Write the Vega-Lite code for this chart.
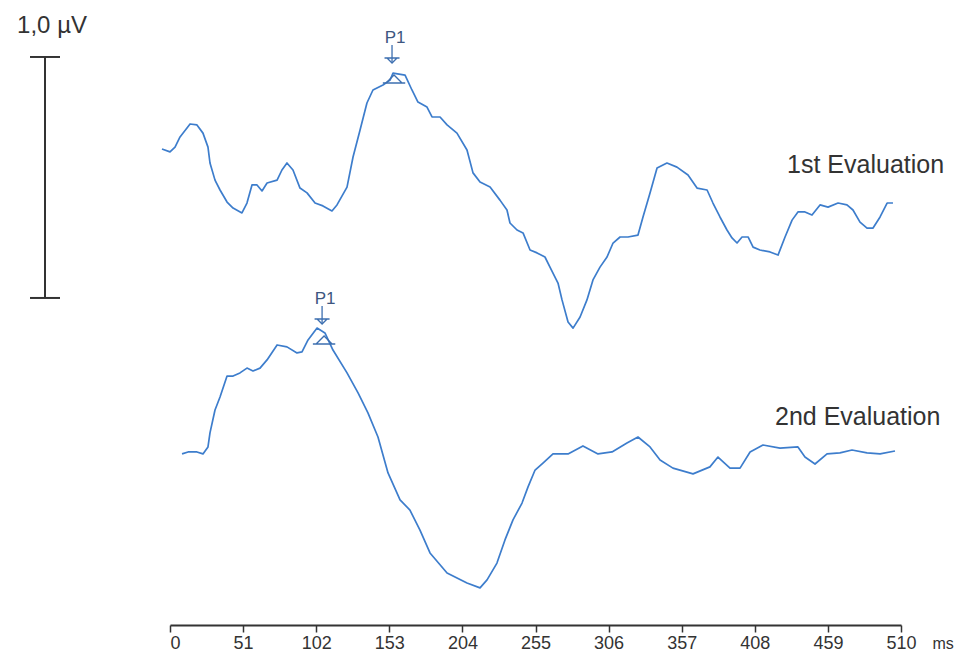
{
  "$schema": "https://vega.github.io/schema/vega-lite/v6.json",
  "width": 731,
  "height": 625,
  "autosize": {"type": "none"},
  "padding": {"left": 170, "top": 0, "right": 65, "bottom": 28},
  "background": "white",
  "config": {"view": {"stroke": null}, "font": "Liberation Sans"},
  "datasets": {
    "traces": [
      {"series": "1st Evaluation", "t": -5.6, "v": 1.975},
      {"series": "1st Evaluation", "t": 0, "v": 1.963},
      {"series": "1st Evaluation", "t": 3.5, "v": 1.983},
      {"series": "1st Evaluation", "t": 7.0, "v": 2.025},
      {"series": "1st Evaluation", "t": 14.0, "v": 2.079},
      {"series": "1st Evaluation", "t": 18.8, "v": 2.075},
      {"series": "1st Evaluation", "t": 23.0, "v": 2.041},
      {"series": "1st Evaluation", "t": 26.5, "v": 1.983},
      {"series": "1st Evaluation", "t": 27.9, "v": 1.917},
      {"series": "1st Evaluation", "t": 31.4, "v": 1.846},
      {"series": "1st Evaluation", "t": 34.9, "v": 1.805},
      {"series": "1st Evaluation", "t": 39.8, "v": 1.755},
      {"series": "1st Evaluation", "t": 44.0, "v": 1.730},
      {"series": "1st Evaluation", "t": 50.2, "v": 1.710},
      {"series": "1st Evaluation", "t": 53.7, "v": 1.751},
      {"series": "1st Evaluation", "t": 57.2, "v": 1.826},
      {"series": "1st Evaluation", "t": 60.7, "v": 1.826},
      {"series": "1st Evaluation", "t": 64.2, "v": 1.801},
      {"series": "1st Evaluation", "t": 67.7, "v": 1.834},
      {"series": "1st Evaluation", "t": 74.7, "v": 1.846},
      {"series": "1st Evaluation", "t": 78.1, "v": 1.888},
      {"series": "1st Evaluation", "t": 81.6, "v": 1.917},
      {"series": "1st Evaluation", "t": 85.8, "v": 1.888},
      {"series": "1st Evaluation", "t": 90.7, "v": 1.813},
      {"series": "1st Evaluation", "t": 95.6, "v": 1.793},
      {"series": "1st Evaluation", "t": 101.2, "v": 1.751},
      {"series": "1st Evaluation", "t": 106.7, "v": 1.739},
      {"series": "1st Evaluation", "t": 113.0, "v": 1.718},
      {"series": "1st Evaluation", "t": 116.5, "v": 1.743},
      {"series": "1st Evaluation", "t": 123.5, "v": 1.817},
      {"series": "1st Evaluation", "t": 127.7, "v": 1.942},
      {"series": "1st Evaluation", "t": 132.6, "v": 2.054},
      {"series": "1st Evaluation", "t": 137.4, "v": 2.166},
      {"series": "1st Evaluation", "t": 141.6, "v": 2.220},
      {"series": "1st Evaluation", "t": 148.6, "v": 2.241},
      {"series": "1st Evaluation", "t": 153.5, "v": 2.261},
      {"series": "1st Evaluation", "t": 155.6, "v": 2.290},
      {"series": "1st Evaluation", "t": 164.0, "v": 2.282},
      {"series": "1st Evaluation", "t": 168.8, "v": 2.220},
      {"series": "1st Evaluation", "t": 173.0, "v": 2.170},
      {"series": "1st Evaluation", "t": 179.3, "v": 2.149},
      {"series": "1st Evaluation", "t": 182.8, "v": 2.108},
      {"series": "1st Evaluation", "t": 188.4, "v": 2.108},
      {"series": "1st Evaluation", "t": 193.3, "v": 2.075},
      {"series": "1st Evaluation", "t": 200.2, "v": 2.041},
      {"series": "1st Evaluation", "t": 207.2, "v": 1.971},
      {"series": "1st Evaluation", "t": 211.4, "v": 1.876},
      {"series": "1st Evaluation", "t": 216.3, "v": 1.838},
      {"series": "1st Evaluation", "t": 223.3, "v": 1.817},
      {"series": "1st Evaluation", "t": 230.2, "v": 1.763},
      {"series": "1st Evaluation", "t": 235.1, "v": 1.722},
      {"series": "1st Evaluation", "t": 237.2, "v": 1.668},
      {"series": "1st Evaluation", "t": 242.1, "v": 1.639},
      {"series": "1st Evaluation", "t": 246.3, "v": 1.627},
      {"series": "1st Evaluation", "t": 251.2, "v": 1.556},
      {"series": "1st Evaluation", "t": 256.1, "v": 1.544},
      {"series": "1st Evaluation", "t": 261.6, "v": 1.527},
      {"series": "1st Evaluation", "t": 265.1, "v": 1.485},
      {"series": "1st Evaluation", "t": 270.7, "v": 1.419},
      {"series": "1st Evaluation", "t": 273.5, "v": 1.349},
      {"series": "1st Evaluation", "t": 277.7, "v": 1.257},
      {"series": "1st Evaluation", "t": 281.2, "v": 1.232},
      {"series": "1st Evaluation", "t": 286.1, "v": 1.278},
      {"series": "1st Evaluation", "t": 290.9, "v": 1.349},
      {"series": "1st Evaluation", "t": 295.1, "v": 1.432},
      {"series": "1st Evaluation", "t": 300.0, "v": 1.485},
      {"series": "1st Evaluation", "t": 304.9, "v": 1.527},
      {"series": "1st Evaluation", "t": 309.1, "v": 1.585},
      {"series": "1st Evaluation", "t": 314.0, "v": 1.610},
      {"series": "1st Evaluation", "t": 319.5, "v": 1.610},
      {"series": "1st Evaluation", "t": 326.5, "v": 1.618},
      {"series": "1st Evaluation", "t": 330.0, "v": 1.693},
      {"series": "1st Evaluation", "t": 334.9, "v": 1.793},
      {"series": "1st Evaluation", "t": 339.8, "v": 1.896},
      {"series": "1st Evaluation", "t": 346.7, "v": 1.917},
      {"series": "1st Evaluation", "t": 353.7, "v": 1.900},
      {"series": "1st Evaluation", "t": 361.4, "v": 1.867},
      {"series": "1st Evaluation", "t": 367.7, "v": 1.813},
      {"series": "1st Evaluation", "t": 374.7, "v": 1.805},
      {"series": "1st Evaluation", "t": 378.8, "v": 1.751},
      {"series": "1st Evaluation", "t": 383.7, "v": 1.693},
      {"series": "1st Evaluation", "t": 388.6, "v": 1.639},
      {"series": "1st Evaluation", "t": 392.1, "v": 1.606},
      {"series": "1st Evaluation", "t": 395.6, "v": 1.585},
      {"series": "1st Evaluation", "t": 399.1, "v": 1.610},
      {"series": "1st Evaluation", "t": 403.3, "v": 1.610},
      {"series": "1st Evaluation", "t": 406.8, "v": 1.568},
      {"series": "1st Evaluation", "t": 411.6, "v": 1.556},
      {"series": "1st Evaluation", "t": 418.6, "v": 1.548},
      {"series": "1st Evaluation", "t": 424.2, "v": 1.535},
      {"series": "1st Evaluation", "t": 429.1, "v": 1.610},
      {"series": "1st Evaluation", "t": 434.0, "v": 1.680},
      {"series": "1st Evaluation", "t": 438.1, "v": 1.714},
      {"series": "1st Evaluation", "t": 443.0, "v": 1.714},
      {"series": "1st Evaluation", "t": 447.9, "v": 1.701},
      {"series": "1st Evaluation", "t": 453.5, "v": 1.743},
      {"series": "1st Evaluation", "t": 459.1, "v": 1.734},
      {"series": "1st Evaluation", "t": 466.1, "v": 1.751},
      {"series": "1st Evaluation", "t": 472.3, "v": 1.743},
      {"series": "1st Evaluation", "t": 476.5, "v": 1.722},
      {"series": "1st Evaluation", "t": 481.4, "v": 1.672},
      {"series": "1st Evaluation", "t": 486.3, "v": 1.647},
      {"series": "1st Evaluation", "t": 490.5, "v": 1.647},
      {"series": "1st Evaluation", "t": 495.4, "v": 1.693},
      {"series": "1st Evaluation", "t": 500.3, "v": 1.751},
      {"series": "1st Evaluation", "t": 504.4, "v": 1.751},
      {"series": "2nd Evaluation", "t": 8.4, "v": 0.710},
      {"series": "2nd Evaluation", "t": 12.6, "v": 0.718},
      {"series": "2nd Evaluation", "t": 18.8, "v": 0.718},
      {"series": "2nd Evaluation", "t": 23.0, "v": 0.710},
      {"series": "2nd Evaluation", "t": 26.5, "v": 0.739},
      {"series": "2nd Evaluation", "t": 27.9, "v": 0.797},
      {"series": "2nd Evaluation", "t": 31.4, "v": 0.892},
      {"series": "2nd Evaluation", "t": 34.9, "v": 0.946},
      {"series": "2nd Evaluation", "t": 39.8, "v": 1.033},
      {"series": "2nd Evaluation", "t": 44.0, "v": 1.033},
      {"series": "2nd Evaluation", "t": 48.8, "v": 1.046},
      {"series": "2nd Evaluation", "t": 53.7, "v": 1.066},
      {"series": "2nd Evaluation", "t": 57.9, "v": 1.054},
      {"series": "2nd Evaluation", "t": 62.8, "v": 1.066},
      {"series": "2nd Evaluation", "t": 67.7, "v": 1.100},
      {"series": "2nd Evaluation", "t": 74.7, "v": 1.162},
      {"series": "2nd Evaluation", "t": 81.6, "v": 1.154},
      {"series": "2nd Evaluation", "t": 88.6, "v": 1.129},
      {"series": "2nd Evaluation", "t": 92.1, "v": 1.133},
      {"series": "2nd Evaluation", "t": 96.3, "v": 1.183},
      {"series": "2nd Evaluation", "t": 102.6, "v": 1.232},
      {"series": "2nd Evaluation", "t": 108.1, "v": 1.212},
      {"series": "2nd Evaluation", "t": 113.7, "v": 1.141},
      {"series": "2nd Evaluation", "t": 123.5, "v": 1.046},
      {"series": "2nd Evaluation", "t": 131.2, "v": 0.963},
      {"series": "2nd Evaluation", "t": 138.1, "v": 0.880},
      {"series": "2nd Evaluation", "t": 145.1, "v": 0.780},
      {"series": "2nd Evaluation", "t": 152.1, "v": 0.631},
      {"series": "2nd Evaluation", "t": 160.5, "v": 0.519},
      {"series": "2nd Evaluation", "t": 167.4, "v": 0.477},
      {"series": "2nd Evaluation", "t": 174.4, "v": 0.394},
      {"series": "2nd Evaluation", "t": 181.4, "v": 0.299},
      {"series": "2nd Evaluation", "t": 193.3, "v": 0.216},
      {"series": "2nd Evaluation", "t": 207.2, "v": 0.174},
      {"series": "2nd Evaluation", "t": 216.3, "v": 0.154},
      {"series": "2nd Evaluation", "t": 221.2, "v": 0.187},
      {"series": "2nd Evaluation", "t": 228.1, "v": 0.257},
      {"series": "2nd Evaluation", "t": 233.7, "v": 0.353},
      {"series": "2nd Evaluation", "t": 239.3, "v": 0.436},
      {"series": "2nd Evaluation", "t": 245.6, "v": 0.506},
      {"series": "2nd Evaluation", "t": 249.8, "v": 0.573},
      {"series": "2nd Evaluation", "t": 254.7, "v": 0.643},
      {"series": "2nd Evaluation", "t": 260.2, "v": 0.672},
      {"series": "2nd Evaluation", "t": 267.2, "v": 0.710},
      {"series": "2nd Evaluation", "t": 277.7, "v": 0.710},
      {"series": "2nd Evaluation", "t": 288.1, "v": 0.743},
      {"series": "2nd Evaluation", "t": 298.6, "v": 0.710},
      {"series": "2nd Evaluation", "t": 308.4, "v": 0.718},
      {"series": "2nd Evaluation", "t": 318.8, "v": 0.755},
      {"series": "2nd Evaluation", "t": 326.5, "v": 0.780},
      {"series": "2nd Evaluation", "t": 334.9, "v": 0.739},
      {"series": "2nd Evaluation", "t": 341.9, "v": 0.685},
      {"series": "2nd Evaluation", "t": 350.9, "v": 0.651},
      {"series": "2nd Evaluation", "t": 364.9, "v": 0.627},
      {"series": "2nd Evaluation", "t": 376.7, "v": 0.656},
      {"series": "2nd Evaluation", "t": 382.3, "v": 0.697},
      {"series": "2nd Evaluation", "t": 390.7, "v": 0.651},
      {"series": "2nd Evaluation", "t": 397.7, "v": 0.651},
      {"series": "2nd Evaluation", "t": 404.7, "v": 0.718},
      {"series": "2nd Evaluation", "t": 413.7, "v": 0.747},
      {"series": "2nd Evaluation", "t": 425.6, "v": 0.734},
      {"series": "2nd Evaluation", "t": 438.1, "v": 0.739},
      {"series": "2nd Evaluation", "t": 443.0, "v": 0.697},
      {"series": "2nd Evaluation", "t": 450.0, "v": 0.668},
      {"series": "2nd Evaluation", "t": 458.4, "v": 0.710},
      {"series": "2nd Evaluation", "t": 467.4, "v": 0.714},
      {"series": "2nd Evaluation", "t": 475.8, "v": 0.726},
      {"series": "2nd Evaluation", "t": 486.3, "v": 0.714},
      {"series": "2nd Evaluation", "t": 495.4, "v": 0.710},
      {"series": "2nd Evaluation", "t": 505.8, "v": 0.722}
    ],
    "peaks": [
      {"series": "1st Evaluation", "label": "P1", "t": 154.9, "v": 2.303},
      {"series": "2nd Evaluation", "label": "P1", "t": 106.1, "v": 1.220}
    ],
    "names": [
      {"label": "1st Evaluation", "t": 430.5, "v": 1.876},
      {"label": "2nd Evaluation", "t": 422.1, "v": 0.830}
    ],
    "scalebar": [
      {"label": "1,0 µV", "t": -87.2, "top": 2.357, "bottom": 1.357, "labelT": -82.3, "labelV": 2.456}
    ]
  },
  "encoding": {
    "x": {
      "field": "t", "type": "quantitative",
      "scale": {"domain": [0, 510], "nice": false, "zero": false},
      "axis": {
        "values": [0, 51, 102, 153, 204, 255, 306, 357, 408, 459, 510],
        "title": "ms",
        "titleFont": "Liberation Sans", "titleFontSize": 16, "titleFontWeight": "normal", "titleColor": "#333333",
        "titleAlign": "left", "titleBaseline": "middle", "titleAnchor": null,
        "titleX": 762, "titleY": 18,
        "grid": false,
        "domainColor": "#333333", "domainWidth": 2,
        "tickColor": "#333333", "tickWidth": 1.5, "tickSize": 7,
        "labelFont": "Liberation Sans", "labelFontSize": 18, "labelColor": "#333333", "labelPadding": 2,
        "labelAlign": {"condition": {"test": "datum.value == 0", "value": "left"}, "value": "center"}
      }
    }
  },
  "layer": [
    {
      "data": {"name": "traces"},
      "mark": {"type": "line", "color": "#3d7dcc", "strokeWidth": 1.7, "strokeJoin": "round"},
      "encoding": {
        "y": {"field": "v", "type": "quantitative", "scale": {"domain": [0, 2.5934], "nice": false, "zero": false}, "axis": null},
        "detail": {"field": "series"}
      }
    },
    {
      "data": {"name": "scalebar"},
      "mark": {"type": "rule", "color": "#333333", "strokeWidth": 2},
      "encoding": {
        "y": {"field": "top", "type": "quantitative"},
        "y2": {"field": "bottom"}
      }
    },
    {
      "data": {"name": "scalebar"},
      "mark": {"type": "rule", "color": "#333333", "strokeWidth": 2, "xOffset": -15, "x2Offset": 15},
      "encoding": {
        "x2": {"field": "t"},
        "y": {"field": "top", "type": "quantitative"}
      }
    },
    {
      "data": {"name": "scalebar"},
      "mark": {"type": "rule", "color": "#333333", "strokeWidth": 2, "xOffset": -15, "x2Offset": 15},
      "encoding": {
        "x2": {"field": "t"},
        "y": {"field": "bottom", "type": "quantitative"}
      }
    },
    {
      "data": {"name": "scalebar"},
      "mark": {"type": "text", "font": "Liberation Sans", "fontSize": 24, "color": "#333333", "align": "center", "baseline": "alphabetic"},
      "encoding": {
        "x": {"field": "labelT", "type": "quantitative"},
        "y": {"field": "labelV", "type": "quantitative"},
        "text": {"field": "label"}
      }
    },
    {
      "data": {"name": "peaks"},
      "mark": {"type": "text", "font": "Liberation Sans", "fontSize": 17, "color": "#3d5680", "align": "center", "baseline": "alphabetic", "yOffset": -27, "xOffset": 3},
      "encoding": {
        "y": {"field": "v", "type": "quantitative"},
        "text": {"field": "label"}
      }
    },
    {
      "data": {"name": "peaks"},
      "mark": {"type": "rule", "color": "#3d6fb0", "strokeWidth": 1.3, "yOffset": -25, "y2Offset": -8},
      "encoding": {
        "y": {"field": "v", "type": "quantitative"},
        "y2": {"field": "v"}
      }
    },
    {
      "data": {"name": "peaks"},
      "mark": {"type": "point", "shape": "M -1.5 -0.5 L 1.5 -0.5 M -1 -0.5 L 0 0.5 L 1 -0.5", "size": 100, "filled": false, "stroke": "#3d6fb0", "strokeWidth": 1.3, "opacity": 1, "yOffset": -9.5},
      "encoding": {
        "y": {"field": "v", "type": "quantitative"}
      }
    },
    {
      "data": {"name": "peaks"},
      "mark": {"type": "point", "shape": "M -1.4 0.5 L 1.4 0.5 M -1 0.5 L 0 -0.5 L 1 0.5", "size": 256, "filled": false, "stroke": "#3d6fb0", "strokeWidth": 1.3, "opacity": 1, "yOffset": 9, "xOffset": 2},
      "encoding": {
        "y": {"field": "v", "type": "quantitative"}
      }
    },
    {
      "data": {"name": "names"},
      "mark": {"type": "text", "font": "Liberation Sans", "fontSize": 25, "color": "#333333", "align": "left", "baseline": "alphabetic"},
      "encoding": {
        "y": {"field": "v", "type": "quantitative"},
        "text": {"field": "label"}
      }
    }
  ]
}
